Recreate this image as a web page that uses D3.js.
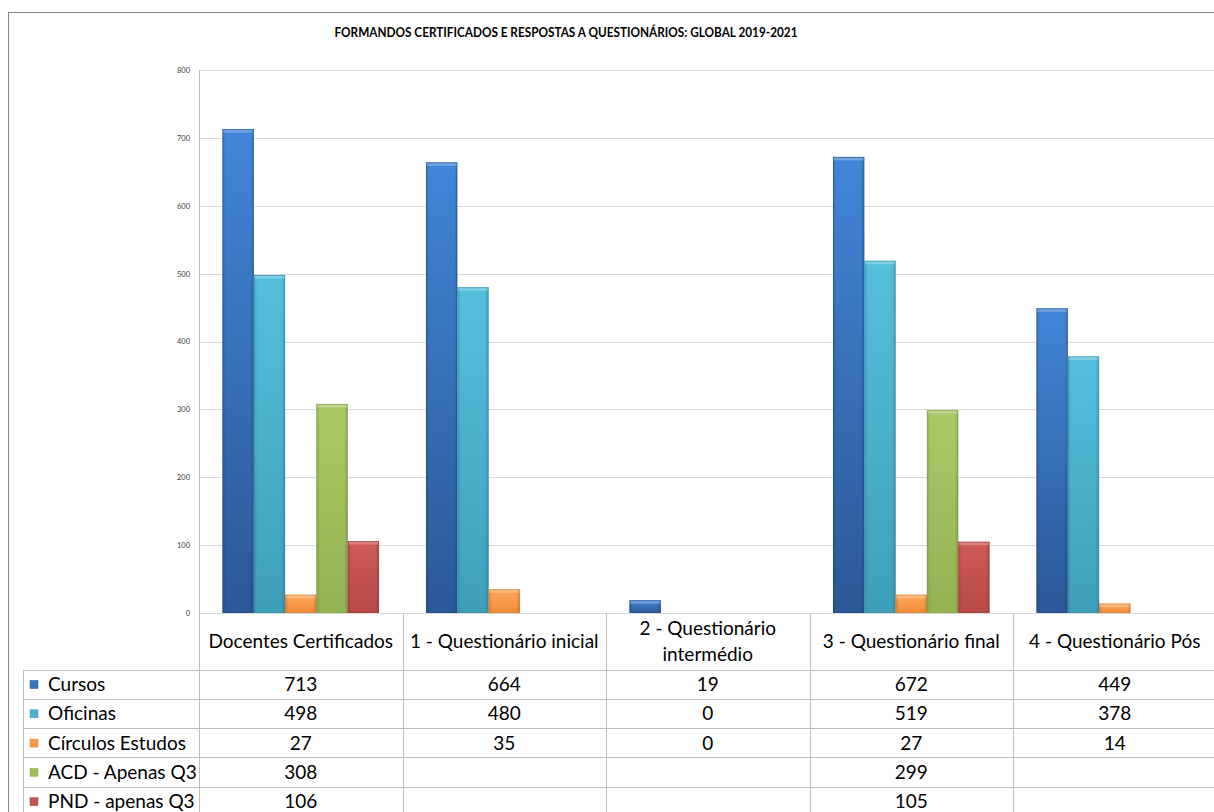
<!DOCTYPE html>
<html><head><meta charset="utf-8">
<script src="https://cdn.jsdelivr.net/npm/d3@7"></script>
<style>
body{margin:0;background:#fff}
svg{display:block}
text{font-family:Lato,'Liberation Sans',sans-serif}
</style>
</head><body>
<svg id="chart" width="1214" height="812"></svg>
<script>
const title = "FORMANDOS CERTIFICADOS E RESPOSTAS A QUESTIONÁRIOS: GLOBAL 2019-2021";
const categories = ["Docentes Certificados","1 - Questionário inicial","2 - Questionário intermédio","3 - Questionário final","4 - Questionário Pós"];
const categoryLines = [["Docentes Certificados"],["1 - Questionário inicial"],["2 - Questionário","intermédio"],["3 - Questionário final"],["4 - Questionário Pós"]];
const seriesNames = ["Cursos","Oficinas","Círculos Estudos","ACD - Apenas Q3","PND - apenas Q3"];
const cursos   = [713, 664, 19, 672, 449];
const oficinas = [498, 480, 0, 519, 378];
const circulos = [27, 35, 0, 27, 14];
const acd      = [308, null, null, 299, null];
const pnd      = [106, null, null, 105, null];
const yTicks   = [0,100,200,300,400,500,600,700,800];
const seriesValues = [cursos, oficinas, circulos, acd, pnd];
const colors = [
  {top:"#4186d8", bot:"#2b5896", mid:"#3a75c4"},
  {top:"#55c0dc", bot:"#3e9fbb", mid:"#4bb3cf"},
  {top:"#fdaa5c", bot:"#f38a36", mid:"#f89a48"},
  {top:"#a9ca66", bot:"#93b352", mid:"#9dbe5b"},
  {top:"#cd5a57", bot:"#b84a47", mid:"#c4524f"}
];
const FS = 19;

const svg = d3.select("#chart");
const defs = svg.append("defs");
colors.forEach((c,i)=>{
  const g = defs.append("linearGradient").attr("id","g"+i).attr("x1",0).attr("y1",0).attr("x2",0).attr("y2",1);
  g.append("stop").attr("offset","0%").attr("stop-color",c.top);
  g.append("stop").attr("offset","100%").attr("stop-color",c.bot);
  const h = defs.append("linearGradient").attr("id","h"+i).attr("x1",0).attr("y1",0).attr("x2",1).attr("y2",0);
  h.append("stop").attr("offset","0%").attr("stop-color","#000").attr("stop-opacity",0.12);
  h.append("stop").attr("offset","12%").attr("stop-color","#000").attr("stop-opacity",0);
  h.append("stop").attr("offset","88%").attr("stop-color","#000").attr("stop-opacity",0);
  h.append("stop").attr("offset","100%").attr("stop-color","#000").attr("stop-opacity",0.15);
});

// outer frame
svg.append("rect").attr("x",8.5).attr("y",12.5).attr("width",1300).attr("height",900)
  .attr("fill","#fff").attr("stroke","#868686").attr("stroke-width",1);

const plotLeft = 199, plotRight = 1216.5, plotTop = 70, plotBottom = 613;
const x = d3.scaleBand().domain(categories).range([plotLeft, plotRight]).paddingInner(0).paddingOuter(0);
const xs = d3.scaleBand().domain(seriesNames).range([0, x.bandwidth()]).paddingInner(0).paddingOuter(0.75);
const y = d3.scaleLinear().domain([0,800]).range([plotBottom, plotTop]);

// title
svg.append("text").attr("x",566).attr("y",37).attr("text-anchor","middle")
  .attr("font-weight","bold").attr("font-size",12.4).attr("fill","#000")
  .attr("textLength",463).attr("lengthAdjust","spacingAndGlyphs").text(title);

// gridlines
svg.append("g").selectAll("line").data(yTicks.filter(t=>t>0)).join("line")
  .attr("x1",plotLeft).attr("x2",1214).attr("y1",d=>Math.round(y(d))+0.5).attr("y2",d=>Math.round(y(d))+0.5)
  .attr("stroke","#d9d9d9").attr("stroke-width",1);

// y axis
const yAxis = d3.axisLeft(y).tickValues(yTicks).tickSize(0).tickPadding(9);
const ya = svg.append("g").attr("transform",`translate(${plotLeft},0)`).call(yAxis);
ya.select(".domain").remove();
ya.selectAll("text").attr("font-size",7.5).attr("fill","#404040").attr("font-family","'Liberation Sans',sans-serif");

// bars
const groups = svg.append("g").selectAll("g").data(categories).join("g")
  .attr("transform",d=>`translate(${x(d)},0)`);
seriesNames.forEach((s,si)=>{
  groups.each(function(cat,ci){
    const v = seriesValues[si][ci];
    if (v===null || v===0) return;
    const g = d3.select(this);
    const bx = xs(s), bw = xs.bandwidth(), by = y(v), bh = y(0)-y(v);
    g.append("rect").attr("x",bx).attr("y",by).attr("width",bw).attr("height",bh)
      .attr("fill",`url(#g${si})`);
    g.append("rect").attr("x",bx).attr("y",by).attr("width",bw).attr("height",bh)
      .attr("fill",`url(#h${si})`);
    g.append("rect").attr("x",bx+0.5).attr("y",by+0.5).attr("width",bw-1).attr("height",Math.min(3,bh-0.5))
      .attr("fill","#fff").attr("opacity",0.25);
    g.append("rect").attr("x",bx+0.5).attr("y",by+0.5).attr("width",bw-1).attr("height",Math.max(0,bh-1))
      .attr("fill","none").attr("stroke",d3.color(colors[si].bot).darker(0.4)).attr("stroke-opacity",0.5).attr("stroke-width",1);
  });
});

// zero line
svg.append("line").attr("x1",plotLeft).attr("x2",1214).attr("y1",plotBottom+0.5).attr("y2",plotBottom+0.5)
  .attr("stroke","#d9d9d9");

// table
const tableTop = 669.5, rowH = 29.3, legendLeft = 23.5;
const tcol = "#bfbfbf";
const tbl = svg.append("g");
tbl.append("line").attr("x1",plotLeft+0.5).attr("x2",plotLeft+0.5).attr("y1",plotTop).attr("y2",812).attr("stroke","#bfbfbf");
tbl.selectAll("line.col").data(categories.slice(1)).join("line").attr("class","col")
  .attr("x1",d=>Math.round(x(d))+0.5).attr("x2",d=>Math.round(x(d))+0.5).attr("y1",plotBottom).attr("y2",812).attr("stroke",tcol);
tbl.append("line").attr("x1",legendLeft).attr("x2",legendLeft).attr("y1",tableTop).attr("y2",812).attr("stroke",tcol);
tbl.selectAll("line.row").data(d3.range(seriesNames.length+1)).join("line").attr("class","row")
  .attr("x1",legendLeft).attr("x2",1214).attr("y1",d=>Math.round(tableTop+d*rowH)+0.5).attr("y2",d=>Math.round(tableTop+d*rowH)+0.5)
  .attr("stroke",tcol);

// header labels
const hdr = svg.append("g").selectAll("text").data(categories).join("text")
  .attr("text-anchor","middle").attr("font-size",FS).attr("fill","#000")
  .attr("x",d=>x(d)+x.bandwidth()/2);
hdr.each(function(d,i){
  const lines = categoryLines[i];
  const t = d3.select(this);
  const cy = (plotBottom+tableTop)/2;
  lines.forEach((ln,li)=>{
    t.append("tspan").attr("x",x(d)+x.bandwidth()/2)
      .attr("y", cy + 7 + (li-(lines.length-1)/2)*26).text(ln);
  });
});

// legend column + values
seriesNames.forEach((s,si)=>{
  const ry = tableTop + si*rowH;
  svg.append("rect").attr("x",30).attr("y",ry+11).attr("width",8).attr("height",8)
    .attr("fill",colors[si].mid).attr("stroke",colors[si].bot).attr("stroke-width",0.5);
  svg.append("text").attr("x",48).attr("y",ry+rowH/2+7).attr("font-size",FS).attr("fill","#000").text(s);
  svg.append("g").selectAll("text").data(categories).join("text")
    .attr("x",d=>x(d)+x.bandwidth()/2).attr("y",ry+rowH/2+7).attr("text-anchor","middle")
    .attr("font-size",FS).attr("fill","#000")
    .text((d,ci)=>seriesValues[si][ci]===null?"":seriesValues[si][ci]);
});
</script>
</body></html>
